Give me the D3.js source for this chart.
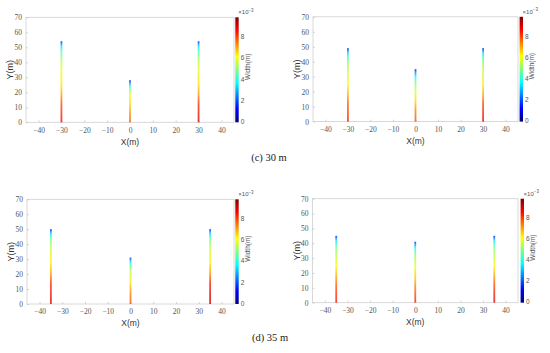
<!DOCTYPE html>
<html><head><meta charset="utf-8">
<script src="https://cdn.jsdelivr.net/npm/d3@7/dist/d3.min.js"></script>
<style>body{margin:0;background:#fff}svg{display:block}</style>
</head><body>
<svg id="chart" width="550" height="353"></svg>
<script>
// ---------------- data ----------------
const xTicks = [-40, -30, -20, -10, 0, 10, 20, 30, 40];
const yTicks = [0, 10, 20, 30, 40, 50, 60, 70];
const cbarTicks = [0, 2, 4, 6, 8];
const cbarMax = 9.9;              // ×10^-3 m
const captions = ["(c) 30 m", "(d) 35 m"];

// fracture positions (m)
const xs30 = [-30, 0, 30];
const xs35 = [-35, 0, 35];

// width profiles along each fracture: height (m) and width (×10^-3 m)
// panel (c) left
const cL_left  = {y: [0, 12, 18, 25, 35, 42, 48, 51, 53, 54], w: [8.6, 8.0, 7.2, 6.4, 6.0, 5.3, 4.3, 3.3, 2.0, 0.8]};
const cL_mid   = {y: [0, 6, 12, 18, 22, 24, 26, 27, 28],      w: [7.8, 7.3, 6.6, 6.0, 5.0, 4.0, 2.8, 1.8, 0.8]};
const cL_right = {y: [0, 12, 18, 25, 35, 42, 48, 51, 53, 54], w: [9.0, 8.3, 7.3, 6.5, 6.0, 5.3, 4.3, 3.3, 2.0, 0.8]};
// panel (c) right
const cR_left  = {y: [0, 12, 18, 25, 35, 42, 46, 48, 49], w: [8.4, 7.8, 7.0, 6.2, 5.6, 4.6, 3.4, 2.0, 0.8]};
const cR_mid   = {y: [0, 8, 14, 20, 26, 30, 33, 35],      w: [8.0, 7.4, 6.5, 5.8, 4.8, 3.8, 2.4, 0.8]};
const cR_right = {y: [0, 12, 18, 25, 35, 42, 46, 48, 49], w: [8.8, 8.0, 7.1, 6.3, 5.6, 4.6, 3.4, 2.0, 0.8]};
// panel (d) left
const dL_left  = {y: [0, 14, 20, 28, 38, 44, 47, 49, 50], w: [9.0, 8.2, 7.2, 6.3, 5.6, 4.6, 3.4, 2.0, 0.8]};
const dL_mid   = {y: [0, 8, 14, 20, 25, 28, 30, 31],      w: [8.0, 7.3, 6.5, 5.8, 4.8, 3.5, 2.2, 0.8]};
const dL_right = {y: [0, 14, 20, 28, 38, 44, 47, 49, 50], w: [9.3, 8.4, 7.3, 6.3, 5.6, 4.6, 3.4, 2.0, 0.8]};
// panel (d) right
const dR_left  = {y: [0, 12, 18, 25, 33, 39, 42, 44, 45], w: [8.6, 7.8, 7.0, 6.2, 5.4, 4.5, 3.4, 2.0, 0.8]};
const dR_mid   = {y: [0, 10, 16, 24, 32, 37, 40, 41],     w: [8.4, 7.6, 6.8, 6.0, 5.0, 3.8, 2.2, 0.8]};
const dR_right = {y: [0, 12, 18, 25, 33, 39, 42, 44, 45], w: [9.0, 8.0, 7.1, 6.2, 5.4, 4.5, 3.4, 2.0, 0.8]};

// ---------------- layout ----------------
const panels = [
  {L: 26,  T: 17.3,  R: 234, B: 122.3, cx: 235.3, xs: xs30, prof: [cL_left, cL_mid, cL_right]},
  {L: 313, T: 16.8,  R: 518, B: 121.6, cx: 519.6, xs: xs30, prof: [cR_left, cR_mid, cR_right]},
  {L: 27,  T: 199.3, R: 234, B: 304,   cx: 235.3, xs: xs35, prof: [dL_left, dL_mid, dL_right]},
  {L: 312.5, T: 198.7, R: 518, B: 302.7, cx: 520.6, xs: xs35, prof: [dR_left, dR_mid, dR_right]}
];
const captionPos = [{x: 269, y: 159}, {x: 270, y: 339}];

const svg = d3.select("#chart");
const defs = svg.append("defs");

// jet colormap
const jetStops = [0, 0.125, 0.375, 0.625, 0.875, 1];
const jetColors = ["#000080", "#0000ff", "#00ffff", "#ffff00", "#ff0000", "#800000"];
const jet = d3.scaleLinear().domain(jetStops).range(jetColors).clamp(true);
const cScale = d3.scaleLinear().domain([0, cbarMax]).range([0, 1]);

const cg = defs.append("linearGradient").attr("id", "cbar")
  .attr("x1", 0).attr("y1", 1).attr("x2", 0).attr("y2", 0);
jetStops.forEach((s, i) => cg.append("stop").attr("offset", s).attr("stop-color", jetColors[i]));

const serif = "Liberation Serif, Times New Roman, serif";
const sans = "Liberation Sans, Arial, sans-serif";

let gid = 0;
panels.forEach((p, pi) => {
  const g = svg.append("g");
  const x = d3.scaleLinear().domain([-45.5, 45.5]).range([p.L, p.R]);
  const y = d3.scaleLinear().domain([0, 70]).range([p.B, p.T]);

  // frame
  g.append("rect").attr("x", p.L).attr("y", p.T).attr("width", p.R - p.L).attr("height", p.B - p.T)
    .attr("fill", "none").attr("stroke", "#cfcfcf").attr("stroke-width", 0.8);

  // x axis
  const xa = g.append("g").attr("transform", `translate(0,${p.B})`)
    .call(d3.axisBottom(x).tickValues(xTicks).tickSize(-2).tickPadding(5)
      .tickFormat(d => d < 0 ? "\u2212" + Math.abs(d) : d));
  xa.select(".domain").remove();
  xa.selectAll("line").attr("stroke", "#bbb").attr("stroke-width", 0.6);
  xa.selectAll("text").style("font-family", serif).attr("font-size", 7.5).attr("fill", "#555");

  // y axis
  const ya = g.append("g").attr("transform", `translate(${p.L},0)`)
    .call(d3.axisLeft(y).tickValues(yTicks).tickSize(-2).tickPadding(4));
  ya.select(".domain").remove();
  ya.selectAll("line").attr("stroke", "#bbb").attr("stroke-width", 0.6);
  ya.selectAll("text").style("font-family", serif).attr("font-size", 7.5).attr("fill", "#555");

  // axis labels
  g.append("text").attr("x", (x(0))).attr("y", p.B + 20).attr("text-anchor", "middle")
    .attr("dominant-baseline", "middle").style("font-family", sans).attr("font-size", 8.5).attr("fill", "#333")
    .text("X(m)");
  g.append("text").attr("transform", `translate(${p.L - 15},${(p.T + p.B) / 2}) rotate(-90)`)
    .attr("text-anchor", "middle").attr("dominant-baseline", "middle")
    .style("font-family", sans).attr("font-size", 9).attr("fill", "#333").text("Y(m)");

  // fractures
  p.prof.forEach((pr, i) => {
    const id = "fg" + (gid++);
    const top = pr.y[pr.y.length - 1];
    const lg = defs.append("linearGradient").attr("id", id)
      .attr("gradientUnits", "userSpaceOnUse")
      .attr("x1", 0).attr("x2", 0).attr("y1", y(0)).attr("y2", y(top));
    pr.y.forEach((yy, k) => lg.append("stop").attr("offset", yy / top)
      .attr("stop-color", jet(cScale(pr.w[k]))));
    g.append("rect").attr("x", x(p.xs[i]) - 0.9).attr("width", 1.8)
      .attr("y", y(top)).attr("height", y(0) - y(top))
      .attr("fill", `url(#${id})`).attr("opacity", 0.78);
  });

  // colorbar
  const cy = d3.scaleLinear().domain([0, cbarMax]).range([p.B, p.T]);
  g.append("rect").attr("x", p.cx).attr("y", p.T).attr("width", 3.4).attr("height", p.B - p.T)
    .attr("fill", "url(#cbar)");
  cbarTicks.forEach(t => {
    g.append("text").attr("x", p.cx + 5.5).attr("y", cy(t)).attr("dominant-baseline", "middle")
      .style("font-family", sans).attr("font-size", 6.5).attr("fill", "#555").text(t);
  });
  g.append("text").attr("transform", `translate(${p.cx + 13},${(p.T + p.B) / 2 - 3}) rotate(-90)`)
    .attr("text-anchor", "middle").attr("dominant-baseline", "middle")
    .style("font-family", sans).attr("font-size", 6.5).attr("fill", "#555").text("Width(m)");
  const ex = g.append("text").attr("x", p.cx + 3).attr("y", p.T - 3)
    .style("font-family", sans).attr("font-size", 6).attr("fill", "#555");
  ex.append("tspan").text("\u00d710");
  ex.append("tspan").attr("dy", -2.5).attr("font-size", 4.5).text("\u22123");
});

// captions
captions.forEach((c, i) => {
  svg.append("text").attr("x", captionPos[i].x).attr("y", captionPos[i].y)
    .attr("text-anchor", "middle").attr("dominant-baseline", "middle")
    .style("font-family", serif).attr("font-size", 10.5).attr("fill", "#222").text(c);
});
</script>
</body></html>
